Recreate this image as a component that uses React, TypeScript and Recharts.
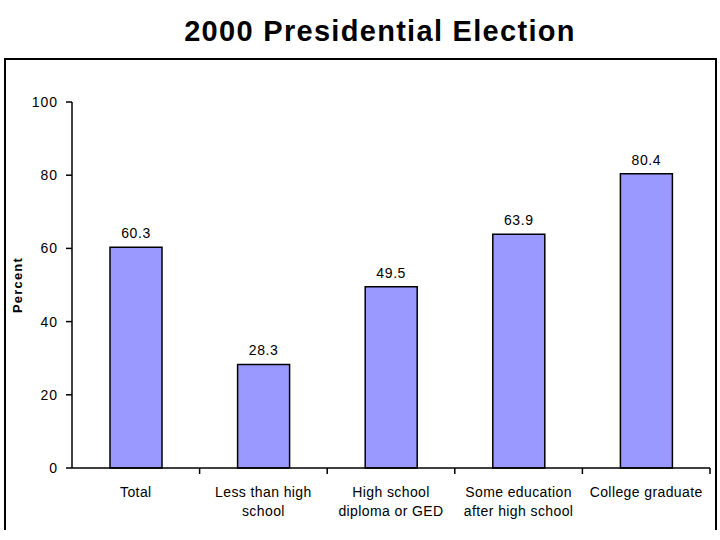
import React from 'react';
import { BarChart, Bar, XAxis, YAxis, LabelList } from 'recharts';

const categories = [
  ['Total'],
  ['Less than high', 'school'],
  ['High school', 'diploma or GED'],
  ['Some education', 'after high school'],
  ['College graduate'],
];
const percentValues = [60.3, 28.3, 49.5, 63.9, 80.4];
const yTicks = [0, 20, 40, 60, 80, 100];

const data = categories.map((lines, i) => ({
  name: lines.join(' '),
  lines,
  value: percentValues[i],
}));

const W = 720;
const H = 540;
const MARGIN = { top: 102, right: 10, bottom: 12, left: 10 };
const Y_AXIS_W = 62;
const X_AXIS_H = 60;
const PLOT_W = W - MARGIN.left - MARGIN.right - Y_AXIS_W;
const BAND = PLOT_W / categories.length;
const TICK_SIZE = 6;
const FONT = 'Arial, "Liberation Sans", sans-serif';

const CategoryTick = ({ x, y, index }: any) => {
  const entry = data[index];
  const axisY = y - TICK_SIZE;
  return (
    <g>
      <line x1={x + BAND / 2} y1={axisY} x2={x + BAND / 2} y2={axisY + 6} stroke="#000" strokeWidth={1.5} />
      <text textAnchor="middle" fontSize={14} fontFamily={FONT} fill="#000" letterSpacing={0.4}>
        {entry.lines.map((line: string, i: number) => (
          <tspan key={i} x={x} y={axisY + 29 + i * 19}>{line}</tspan>
        ))}
      </text>
    </g>
  );
};

export default function App() {
  return (
    <div style={{ position: 'absolute', left: 0, top: 0, width: W, height: H, background: '#fff', overflow: 'hidden' }}>
      <div
        style={{
          position: 'absolute',
          left: 4,
          top: 58,
          width: 709,
          height: 470,
          borderTop: '2px solid #000',
          borderLeft: '2px solid #000',
          borderRight: '2px solid #000',
        }}
      />
      <div
        style={{
          position: 'absolute',
          top: 14,
          left: 40,
          width: 680,
          textAlign: 'center',
          fontFamily: FONT,
          fontWeight: 'bold',
          fontSize: 29,
          lineHeight: '34px',
          letterSpacing: 1.3,
          color: '#000',
        }}
      >
        2000 Presidential Election
      </div>
      <div style={{ position: 'absolute', left: 0, top: 0 }}>
        <BarChart width={W} height={H} data={data} margin={MARGIN}>
          <XAxis
            dataKey="name"
            height={X_AXIS_H}
            interval={0}
            tickLine={false}
            tickSize={TICK_SIZE}
            tickMargin={0}
            axisLine={{ stroke: '#000', strokeWidth: 1.5 }}
            tick={<CategoryTick />}
          />
          <YAxis
            width={Y_AXIS_W}
            domain={[0, 100]}
            ticks={yTicks}
            interval={0}
            tickSize={6}
            tickMargin={8}
            axisLine={{ stroke: '#000', strokeWidth: 1.5 }}
            tickLine={{ stroke: '#000', strokeWidth: 1.5 }}
            tick={{ fill: '#000', fontSize: 14, fontFamily: FONT, letterSpacing: 1 }}
            label={{
              value: 'Percent',
              angle: -90,
              position: 'insideLeft',
              offset: 7,
              style: { textAnchor: 'middle', fontWeight: 'bold', fontSize: 13, fontFamily: FONT, fill: '#000', letterSpacing: 1.2 },
            }}
          />
          <Bar dataKey="value" barSize={52} fill="#9999FF" stroke="#000" strokeWidth={1.5} isAnimationActive={false}>
            <LabelList
              dataKey="value"
              position="top"
              offset={9}
              formatter={(v: any) => Number(v).toFixed(1)}
              style={{ fill: '#000', fontSize: 14, fontFamily: FONT, letterSpacing: 0.6 }}
            />
          </Bar>
        </BarChart>
      </div>
    </div>
  );
}
